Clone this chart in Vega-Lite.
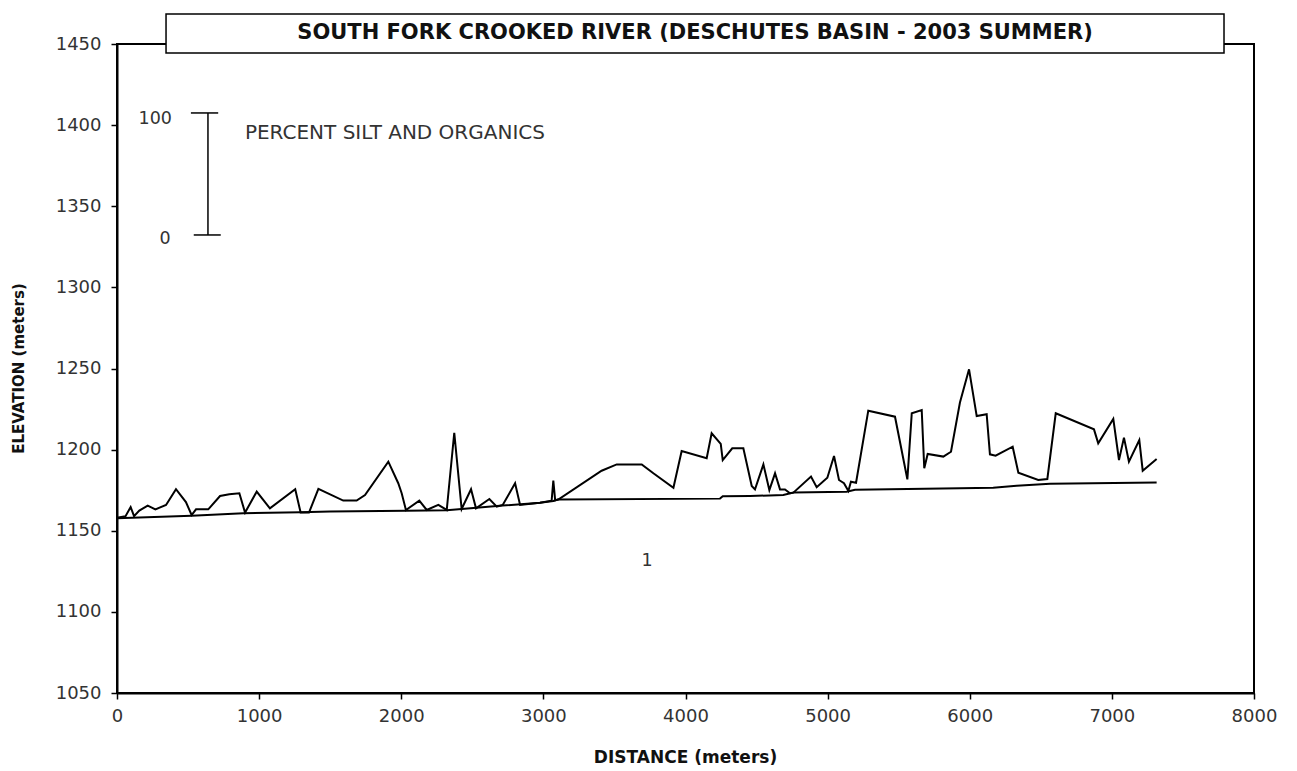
{
  "$schema": "https://vega.github.io/schema/vega-lite/v6.json",
  "width": 1137,
  "height": 649,
  "autosize": {"type": "none"},
  "padding": {"left": 117, "top": 44, "right": 43, "bottom": 78},
  "background": "white",
  "config": {
    "view": {"stroke": "black", "strokeWidth": 2},
    "axis": {
      "grid": false,
      "domainColor": "black",
      "domainWidth": 2,
      "tickColor": "black",
      "tickWidth": 1.5,
      "tickSize": 6,
      "labelFont": "DejaVu Sans",
      "labelFontSize": 18,
      "labelColor": "#333",
      "labelFontWeight": "normal",
      "labelFlush": false,
      "format": "d",
      "titleFont": "DejaVu Sans",
      "titleFontWeight": "bold",
      "titleColor": "#111"
    }
  },
  "datasets": {
    "profile": [
      {"series": "silt", "distance": 0, "elevation": 1158},
      {"series": "silt", "distance": 60, "elevation": 1159},
      {"series": "silt", "distance": 96, "elevation": 1164.6},
      {"series": "silt", "distance": 120, "elevation": 1159},
      {"series": "silt", "distance": 157, "elevation": 1162.4},
      {"series": "silt", "distance": 216, "elevation": 1165.5},
      {"series": "silt", "distance": 270, "elevation": 1163.2},
      {"series": "silt", "distance": 345, "elevation": 1165.9},
      {"series": "silt", "distance": 415, "elevation": 1175.6},
      {"series": "silt", "distance": 485, "elevation": 1167.7},
      {"series": "silt", "distance": 525, "elevation": 1159.7},
      {"series": "silt", "distance": 556, "elevation": 1163.2},
      {"series": "silt", "distance": 642, "elevation": 1163.2},
      {"series": "silt", "distance": 725, "elevation": 1171.4},
      {"series": "silt", "distance": 790, "elevation": 1172.5},
      {"series": "silt", "distance": 861, "elevation": 1173.1},
      {"series": "silt", "distance": 901, "elevation": 1161.2},
      {"series": "silt", "distance": 983, "elevation": 1174.1},
      {"series": "silt", "distance": 1076, "elevation": 1163.8},
      {"series": "silt", "distance": 1254, "elevation": 1175.6},
      {"series": "silt", "distance": 1292, "elevation": 1161.2},
      {"series": "silt", "distance": 1351, "elevation": 1161.2},
      {"series": "silt", "distance": 1417, "elevation": 1175.8},
      {"series": "silt", "distance": 1592, "elevation": 1168.6},
      {"series": "silt", "distance": 1686, "elevation": 1168.6},
      {"series": "silt", "distance": 1745, "elevation": 1172.0},
      {"series": "silt", "distance": 1909, "elevation": 1192.6},
      {"series": "silt", "distance": 1979, "elevation": 1179.3},
      {"series": "silt", "distance": 2003, "elevation": 1173.1},
      {"series": "silt", "distance": 2033, "elevation": 1162.8},
      {"series": "silt", "distance": 2127, "elevation": 1168.6},
      {"series": "silt", "distance": 2179, "elevation": 1162.8},
      {"series": "silt", "distance": 2261, "elevation": 1165.9},
      {"series": "silt", "distance": 2320, "elevation": 1162.8},
      {"series": "silt", "distance": 2373, "elevation": 1210.4},
      {"series": "silt", "distance": 2425, "elevation": 1163.4},
      {"series": "silt", "distance": 2491, "elevation": 1175.6},
      {"series": "silt", "distance": 2526, "elevation": 1163.8},
      {"series": "silt", "distance": 2620, "elevation": 1169.6},
      {"series": "silt", "distance": 2672, "elevation": 1164.8},
      {"series": "silt", "distance": 2714, "elevation": 1165.9},
      {"series": "silt", "distance": 2801, "elevation": 1179.3},
      {"series": "silt", "distance": 2836, "elevation": 1165.9},
      {"series": "silt", "distance": 2976, "elevation": 1167.3},
      {"series": "silt", "distance": 3058, "elevation": 1168.5},
      {"series": "silt", "distance": 3070, "elevation": 1180.9},
      {"series": "silt", "distance": 3083, "elevation": 1168.8},
      {"series": "silt", "distance": 3105, "elevation": 1169.2},
      {"series": "silt", "distance": 3410, "elevation": 1187.0},
      {"series": "silt", "distance": 3516, "elevation": 1190.9},
      {"series": "silt", "distance": 3692, "elevation": 1190.9},
      {"series": "silt", "distance": 3774, "elevation": 1185.4},
      {"series": "silt", "distance": 3915, "elevation": 1176.5},
      {"series": "silt", "distance": 3973, "elevation": 1199.2},
      {"series": "silt", "distance": 4149, "elevation": 1194.7},
      {"series": "silt", "distance": 4184, "elevation": 1210.1},
      {"series": "silt", "distance": 4248, "elevation": 1203.5},
      {"series": "silt", "distance": 4262, "elevation": 1193.6},
      {"series": "silt", "distance": 4329, "elevation": 1200.8},
      {"series": "silt", "distance": 4407, "elevation": 1200.8},
      {"series": "silt", "distance": 4466, "elevation": 1177.6},
      {"series": "silt", "distance": 4489, "elevation": 1175.5},
      {"series": "silt", "distance": 4548, "elevation": 1190.9},
      {"series": "silt", "distance": 4590, "elevation": 1175.1},
      {"series": "silt", "distance": 4630, "elevation": 1185.4},
      {"series": "silt", "distance": 4665, "elevation": 1175.5},
      {"series": "silt", "distance": 4700, "elevation": 1175.5},
      {"series": "silt", "distance": 4735, "elevation": 1173.1},
      {"series": "silt", "distance": 4759, "elevation": 1173.5},
      {"series": "silt", "distance": 4883, "elevation": 1183.4},
      {"series": "silt", "distance": 4923, "elevation": 1176.8},
      {"series": "silt", "distance": 4998, "elevation": 1182.7},
      {"series": "silt", "distance": 5045, "elevation": 1196.1},
      {"series": "silt", "distance": 5080, "elevation": 1181.3},
      {"series": "silt", "distance": 5115, "elevation": 1179.3},
      {"series": "silt", "distance": 5146, "elevation": 1174.5},
      {"series": "silt", "distance": 5164, "elevation": 1180.2},
      {"series": "silt", "distance": 5200, "elevation": 1179.6},
      {"series": "silt", "distance": 5286, "elevation": 1224.0},
      {"series": "silt", "distance": 5474, "elevation": 1220.3},
      {"series": "silt", "distance": 5561, "elevation": 1181.7},
      {"series": "silt", "distance": 5592, "elevation": 1222.4},
      {"series": "silt", "distance": 5662, "elevation": 1224.4},
      {"series": "silt", "distance": 5680, "elevation": 1188.5},
      {"series": "silt", "distance": 5704, "elevation": 1197.3},
      {"series": "silt", "distance": 5814, "elevation": 1195.7},
      {"series": "silt", "distance": 5868, "elevation": 1198.7},
      {"series": "silt", "distance": 5931, "elevation": 1229.0},
      {"series": "silt", "distance": 5995, "elevation": 1249.5},
      {"series": "silt", "distance": 6049, "elevation": 1220.7},
      {"series": "silt", "distance": 6119, "elevation": 1221.8},
      {"series": "silt", "distance": 6142, "elevation": 1197.1},
      {"series": "silt", "distance": 6182, "elevation": 1196.3},
      {"series": "silt", "distance": 6302, "elevation": 1201.8},
      {"series": "silt", "distance": 6342, "elevation": 1185.8},
      {"series": "silt", "distance": 6482, "elevation": 1181.3},
      {"series": "silt", "distance": 6546, "elevation": 1181.9},
      {"series": "silt", "distance": 6605, "elevation": 1222.4},
      {"series": "silt", "distance": 6874, "elevation": 1212.5},
      {"series": "silt", "distance": 6904, "elevation": 1203.9},
      {"series": "silt", "distance": 7010, "elevation": 1218.9},
      {"series": "silt", "distance": 7050, "elevation": 1193.6},
      {"series": "silt", "distance": 7085, "elevation": 1207.4},
      {"series": "silt", "distance": 7120, "elevation": 1192.6},
      {"series": "silt", "distance": 7193, "elevation": 1205.9},
      {"series": "silt", "distance": 7217, "elevation": 1187.0},
      {"series": "silt", "distance": 7315, "elevation": 1194.2},
      {"series": "bed", "distance": 0, "elevation": 1157.7},
      {"series": "bed", "distance": 525, "elevation": 1159.3},
      {"series": "bed", "distance": 889, "elevation": 1160.8},
      {"series": "bed", "distance": 1292, "elevation": 1161.4},
      {"series": "bed", "distance": 1499, "elevation": 1161.8},
      {"series": "bed", "distance": 2033, "elevation": 1162.4},
      {"series": "bed", "distance": 2320, "elevation": 1162.6},
      {"series": "bed", "distance": 2425, "elevation": 1163.4},
      {"series": "bed", "distance": 2714, "elevation": 1165.5},
      {"series": "bed", "distance": 2976, "elevation": 1167.3},
      {"series": "bed", "distance": 3070, "elevation": 1168.3},
      {"series": "bed", "distance": 3103, "elevation": 1169.2},
      {"series": "bed", "distance": 4243, "elevation": 1169.8},
      {"series": "bed", "distance": 4262, "elevation": 1171.2},
      {"series": "bed", "distance": 4454, "elevation": 1171.4},
      {"series": "bed", "distance": 4688, "elevation": 1172.0},
      {"series": "bed", "distance": 4759, "elevation": 1173.5},
      {"series": "bed", "distance": 5134, "elevation": 1174.1},
      {"series": "bed", "distance": 5193, "elevation": 1175.2},
      {"series": "bed", "distance": 5931, "elevation": 1176.2},
      {"series": "bed", "distance": 6165, "elevation": 1176.5},
      {"series": "bed", "distance": 6330, "elevation": 1177.8},
      {"series": "bed", "distance": 6565, "elevation": 1179.0},
      {"series": "bed", "distance": 7315, "elevation": 1179.8}
    ],
    "scalebar": [
      {"x": 640, "y": 1332.3, "y2": 1407.5}
    ],
    "caps": [
      {"x": 520, "x2": 712, "y": 1407.5},
      {"x": 540, "x2": 730, "y": 1332.3}
    ],
    "labels_right": [
      {"x": 387, "y": 1404, "text": "100"}
    ],
    "labels_center": [
      {"x": 338, "y": 1330, "text": "0"},
      {"x": 3729, "y": 1131.4, "text": "1"}
    ],
    "labels_left": [
      {"x": 900, "y": 1395.2, "text": "PERCENT SILT AND ORGANICS"}
    ],
    "titlebox": [
      {"x": 345, "x2": 7789, "y": 1444.5, "y2": 1468.5, "text": "SOUTH FORK CROOKED RIVER (DESCHUTES BASIN - 2003 SUMMER)", "tx": 4067, "ty": 1456.6}
    ]
  },
  "layer": [
    {
      "data": {"name": "profile"},
      "mark": {"type": "line", "color": "black", "strokeWidth": 2, "strokeJoin": "miter"},
      "encoding": {
        "x": {"field": "distance", "type": "quantitative",
              "scale": {"domain": [0, 8000], "nice": false},
              "axis": {"values": [0, 1000, 2000, 3000, 4000, 5000, 6000, 7000, 8000], "title": "DISTANCE (meters)", "titleFontSize": 17, "titleX": 568, "titleY": 64, "titleBaseline": "middle", "labelPadding": 8}},
        "y": {"field": "elevation", "type": "quantitative",
              "scale": {"domain": [1050, 1450], "nice": false, "zero": false},
              "axis": {"values": [1050, 1100, 1150, 1200, 1250, 1300, 1350, 1400, 1450], "title": "ELEVATION (meters)", "titleFontSize": 15, "titleX": -99, "titleY": 324, "titleBaseline": "middle", "titleAngle": -90, "labelPadding": 10}},
        "detail": {"field": "series", "type": "nominal"}
      }
    },
    {
      "data": {"name": "scalebar"},
      "mark": {"type": "rule", "color": "black", "strokeWidth": 1.5},
      "encoding": {
        "x": {"field": "x", "type": "quantitative"},
        "y": {"field": "y", "type": "quantitative"},
        "y2": {"field": "y2"}
      }
    },
    {
      "data": {"name": "caps"},
      "mark": {"type": "rule", "color": "black", "strokeWidth": 1.5},
      "encoding": {
        "x": {"field": "x", "type": "quantitative"},
        "x2": {"field": "x2"},
        "y": {"field": "y", "type": "quantitative"}
      }
    },
    {
      "data": {"name": "labels_right"},
      "mark": {"type": "text", "font": "DejaVu Sans", "fontSize": 17.5, "align": "right", "baseline": "middle", "color": "#333"},
      "encoding": {
        "x": {"field": "x", "type": "quantitative"},
        "y": {"field": "y", "type": "quantitative"},
        "text": {"field": "text"}
      }
    },
    {
      "data": {"name": "labels_center"},
      "mark": {"type": "text", "font": "DejaVu Sans", "fontSize": 17.5, "align": "center", "baseline": "middle", "color": "#333"},
      "encoding": {
        "x": {"field": "x", "type": "quantitative"},
        "y": {"field": "y", "type": "quantitative"},
        "text": {"field": "text"}
      }
    },
    {
      "data": {"name": "labels_left"},
      "mark": {"type": "text", "font": "DejaVu Sans", "fontSize": 20, "align": "left", "baseline": "middle", "color": "#333"},
      "encoding": {
        "x": {"field": "x", "type": "quantitative"},
        "y": {"field": "y", "type": "quantitative"},
        "text": {"field": "text"}
      }
    },
    {
      "data": {"name": "titlebox"},
      "mark": {"type": "rect", "fill": "white", "stroke": "black", "strokeWidth": 1.5},
      "encoding": {
        "x": {"field": "x", "type": "quantitative"},
        "x2": {"field": "x2"},
        "y": {"field": "y", "type": "quantitative"},
        "y2": {"field": "y2"}
      }
    },
    {
      "data": {"name": "titlebox"},
      "mark": {"type": "text", "font": "DejaVu Sans", "fontSize": 21, "fontWeight": "bold", "align": "center", "baseline": "middle", "color": "#111"},
      "encoding": {
        "x": {"field": "tx", "type": "quantitative"},
        "y": {"field": "ty", "type": "quantitative"},
        "text": {"field": "text"}
      }
    }
  ]
}
